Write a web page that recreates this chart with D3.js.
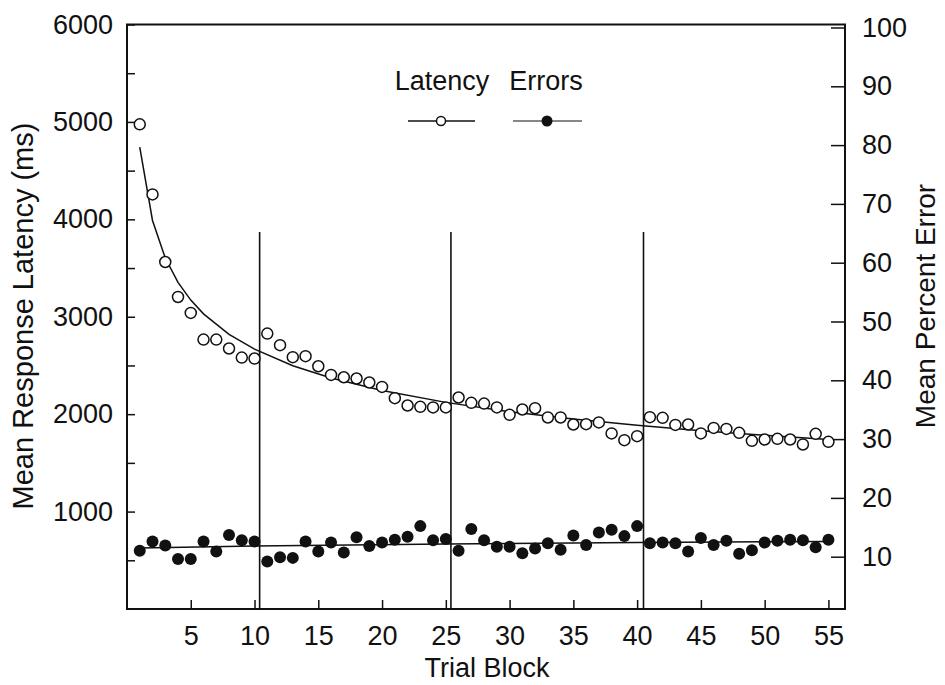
<!DOCTYPE html>
<html>
<head>
<meta charset="utf-8">
<script src="https://cdn.jsdelivr.net/npm/d3@7"></script>
<style>
  html, body { margin: 0; padding: 0; background: #fff; }
  svg { display: block; }
  text { font-family: "Liberation Sans", Arial, Helvetica, sans-serif; fill: #111; }
</style>
</head>
<body>
<svg id="chart" width="945" height="685"></svg>
<script>
// Trial blocks 1..55
const blocks = d3.range(1, 56);

// Mean response latency (ms) per block
const latency = [
  4975, 4256, 3562, 3203, 3039, 2766, 2766, 2674, 2581, 2571,
  2827, 2708, 2585, 2595, 2492, 2403, 2379, 2366, 2325, 2280,
  2164, 2089, 2075, 2069, 2069, 2171, 2116, 2109, 2069, 1993,
  2048, 2061, 1966, 1966, 1894, 1897, 1915, 1802, 1733, 1774,
  1969, 1962, 1890, 1894, 1802, 1859, 1849, 1808, 1726, 1740,
  1747, 1740, 1689, 1798, 1716
];

// Mean percent error per block
const errors = [
  11.0, 12.6, 11.9,  9.6,  9.6, 12.6, 10.9, 13.7, 12.8, 12.6,
   9.2,  9.9,  9.8, 12.6, 10.9, 12.4, 10.7, 13.3, 11.8, 12.4,
  12.9, 13.4, 15.2, 12.8, 13.0, 11.0, 14.7, 12.8, 11.7, 11.7,
  10.6, 11.4, 12.3, 11.2, 13.6, 12.0, 14.1, 14.6, 13.5, 15.2,
  12.3, 12.4, 12.3, 10.9, 13.2, 12.0, 12.7, 10.5, 11.1, 12.4,
  12.7, 12.9, 12.8, 11.6, 12.9
];

// Fitted latency curve, sampled at selected blocks
const fitLatencyX = [1, 2, 3, 4, 5, 6, 8, 10, 13, 16, 20, 25, 30, 35, 40, 45, 50, 55];
const fitLatency  = [4742, 3988, 3603, 3353, 3171, 3030, 2820, 2667, 2497, 2371, 2242, 2121, 2026, 1950, 1886, 1831, 1783, 1741];

// Fitted error line
const fitErrorX = [1, 10, 25, 40, 55];
const fitError  = [11.5, 11.8, 12.15, 12.4, 12.6];

// Phase boundaries (between blocks)
const boundaries = [10.4, 25.4, 40.5];
const boundaryTop = 3870;

// Axis ticks
const xTicks = [5, 10, 15, 20, 25, 30, 35, 40, 45, 50, 55];
const leftTicks = d3.range(500, 6001, 500);
const rightTicks = [10, 20, 30, 40, 50, 60, 70, 80, 90, 100];

const svg = d3.select("#chart");

const L = 127, R = 845, T = 24.5, B = 609;
const x = d3.scaleLinear().domain([0, 56.3]).range([L, R]);
const yL = d3.scaleLinear().domain([0, 6000]).range([B, T]);
const yR = d3.scaleLinear().domain([0, 100]).range([615.5, 27.5]);

const tickFont = 27;

// Left axis (ticks inward)
const gLeft = svg.append("g").attr("transform", `translate(${L},0)`)
  .call(d3.axisLeft(yL).tickValues(leftTicks)
    .tickFormat(d => d % 1000 === 0 ? d : "")
    .tickSizeInner(-8).tickSizeOuter(0).tickPadding(14));
// Right axis
const gRight = svg.append("g").attr("transform", `translate(${R},0)`)
  .call(d3.axisRight(yR).tickValues(rightTicks)
    .tickSizeInner(-14).tickSizeOuter(0).tickPadding(17));
// Bottom axis
const gBottom = svg.append("g").attr("transform", `translate(0,${B})`)
  .call(d3.axisBottom(x).tickValues(xTicks)
    .tickSizeInner(-9).tickSizeOuter(0).tickPadding(17));

[gLeft, gRight, gBottom].forEach(g => {
  g.select(".domain").remove();
  g.selectAll(".tick line").attr("stroke", "#111").attr("stroke-width", 1.5);
  g.selectAll(".tick text").attr("font-size", tickFont)
    .attr("font-family", '"Liberation Sans", Arial, sans-serif').attr("fill", "#111");
});

// Frame
svg.append("rect")
  .attr("x", L).attr("y", T).attr("width", R - L).attr("height", B - T)
  .attr("fill", "none").attr("stroke", "#111").attr("stroke-width", 2);

// Phase boundary lines
svg.append("g").selectAll("line").data(boundaries).join("line")
  .attr("x1", d => x(d)).attr("x2", d => x(d))
  .attr("y1", yL(boundaryTop)).attr("y2", B)
  .attr("stroke", "#111").attr("stroke-width", 1.6);

// Fitted lines
const latLine = d3.line().x((d, i) => x(fitLatencyX[i])).y(d => yL(d));
svg.append("path").datum(fitLatency)
  .attr("d", latLine).attr("fill", "none").attr("stroke", "#111").attr("stroke-width", 1.5);

const errLine = d3.line().x((d, i) => x(fitErrorX[i])).y(d => yR(d));
svg.append("path").datum(fitError)
  .attr("d", errLine).attr("fill", "none").attr("stroke", "#111").attr("stroke-width", 1.5);

// Latency: open circles
svg.append("g").selectAll("circle").data(latency).join("circle")
  .attr("cx", (d, i) => x(blocks[i])).attr("cy", d => yL(d))
  .attr("r", 5.5).attr("fill", "#fff").attr("stroke", "#111").attr("stroke-width", 1.5);

// Errors: filled circles
svg.append("g").selectAll("circle").data(errors).join("circle")
  .attr("cx", (d, i) => x(blocks[i])).attr("cy", d => yR(d))
  .attr("r", 6).attr("fill", "#111");

// Legend
const legend = svg.append("g");
legend.append("text").attr("x", 442).attr("y", 90).attr("text-anchor", "middle")
  .attr("font-size", 27).text("Latency");
legend.append("text").attr("x", 546).attr("y", 90).attr("text-anchor", "middle")
  .attr("font-size", 27).text("Errors");
legend.append("line").attr("x1", 408).attr("x2", 475).attr("y1", 121).attr("y2", 121)
  .attr("stroke", "#111").attr("stroke-width", 1.5);
legend.append("circle").attr("cx", 441).attr("cy", 121).attr("r", 4.5)
  .attr("fill", "#fff").attr("stroke", "#111").attr("stroke-width", 1.5);
legend.append("line").attr("x1", 513).attr("x2", 582).attr("y1", 121).attr("y2", 121)
  .attr("stroke", "#111").attr("stroke-width", 1.2);
legend.append("circle").attr("cx", 547).attr("cy", 121).attr("r", 5.5).attr("fill", "#111");

// Axis titles
svg.append("text").attr("x", 487).attr("y", 677).attr("text-anchor", "middle")
  .attr("font-size", 27).text("Trial Block");
svg.append("text").attr("transform", "translate(33,316) rotate(-90)")
  .attr("text-anchor", "middle").attr("font-size", 29).text("Mean Response Latency (ms)");
svg.append("text").attr("transform", "translate(935,306) rotate(-90)")
  .attr("text-anchor", "middle").attr("font-size", 28).text("Mean Percent Error");
</script>
</body>
</html>
